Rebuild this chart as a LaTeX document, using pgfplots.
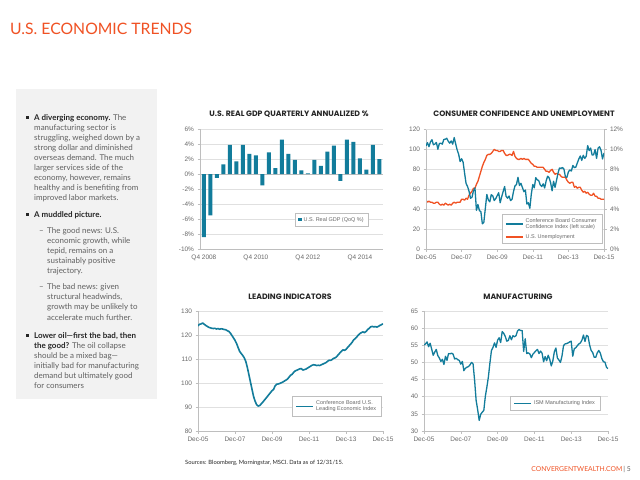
\documentclass[border=0pt]{standalone}
\usepackage{pgfplots}
\pgfplotsset{compat=1.18}
\usepackage{fontspec}
\setmainfont{Lato}
\newfontfamily\tickfont{Liberation Sans}
\newfontfamily\headfont{Poppins}

\definecolor{cteal}{RGB}{18,124,155}
\definecolor{corange}{RGB}{240,82,36}
\definecolor{bodygray}{RGB}{96,96,96}
\definecolor{darktext}{RGB}{38,38,38}
\definecolor{panelgray}{RGB}{242,242,242}
\definecolor{axgray}{RGB}{190,190,190}
\definecolor{gridgray}{RGB}{224,224,224}
\definecolor{ticktext}{RGB}{105,105,105}

\pgfplotsset{
  panel/.style={
    scale only axis,
    axis x line*=bottom,
    axis y line*=left,
    axis line style={draw=axgray, line width=0.6bp},
    ymajorgrids,
    grid style={draw=gridgray, line width=0.5bp},
    tick align=outside,
    major tick length=2.5bp,
    tick style={draw=axgray, line width=0.5bp},
    tick label style={font=\tickfont\fontsize{6.5}{7.5}\selectfont, text=ticktext},
    /pgf/number format/assume math mode=true,
    legend style={draw=axgray, line width=0.5bp, anchor=north west,
      font=\tickfont\fontsize{5.5}{6.6}\selectfont, text=ticktext,
      inner xsep=3bp, inner ysep=2bp, cells={align=left}},
    legend cell align=left,
  },
  datex/.style={xmin=0, xmax=120, xtick={0,24,...,120},
    xticklabels={Dec-05,Dec-07,Dec-09,Dec-11,Dec-13,Dec-15}},
}

% one line of body text at pixel position
\newcommand\tl[3]{\node[anchor=base west, inner sep=0pt, text=bodygray,
  font=\fontsize{8}{9}\selectfont] at (#1bp,-#2bp) {#3};}
\newcommand\bul[1]{\fill[darktext] (26bp,-#1bp+4.4bp) rectangle (29.2bp,-#1bp+1.2bp);}
\newcommand\bd[1]{\textbf{\textcolor{darktext}{#1}}}

\begin{document}
\begin{tikzpicture}
\path[use as bounding box, fill=white] (0,0) rectangle (640bp,-480bp);

% title
\node[anchor=base west, inner sep=0pt, text=corange, font=\fontsize{15.8}{18}\selectfont]
  at (10bp,-34bp) {U.S. ECONOMIC TRENDS};

% left panel
\fill[panelgray] (16bp,-89bp) rectangle (157bp,-399bp);
\bul{120}
\tl{34}{120}{\bd{A diverging economy.} The}
\tl{34}{130.1}{manufacturing sector is}
\tl{34}{140.2}{struggling, weighed down by a}
\tl{34}{150.3}{strong dollar and diminished}
\tl{34}{160.4}{overseas demand. The much}
\tl{34}{170.5}{larger services side of the}
\tl{34}{180.6}{economy, however, remains}
\tl{34}{190.7}{healthy and is benefiting from}
\tl{34}{200.8}{improved labor markets.}
\bul{217}
\tl{34}{217}{\bd{A muddled picture.}}
\tl{39}{233}{–}
\tl{47}{233}{The good news: U.S.}
\tl{47}{243.1}{economic growth, while}
\tl{47}{253.2}{tepid, remains on a}
\tl{47}{263.3}{sustainably positive}
\tl{47}{273.4}{trajectory.}
\tl{39}{289.5}{–}
\tl{47}{289.5}{The bad news: given}
\tl{47}{299.7}{structural headwinds,}
\tl{47}{309.9}{growth may be unlikely to}
\tl{47}{320.1}{accelerate much further.}
\bul{338}
\tl{34}{338}{\bd{Lower oil—first the bad, then}}
\tl{34}{348.1}{\bd{the good?} The oil collapse}
\tl{34}{358.2}{should be a mixed bag—}
\tl{34}{368.3}{initially bad for manufacturing}
\tl{34}{378.4}{demand but ultimately good}
\tl{34}{388.5}{for consumers}

% chart titles
\begin{scope}[every node/.style={text=darktext, font=\headfont\bfseries\fontsize{7.8}{9}\selectfont}]
\node at (289bp,-114bp) {U.S. REAL GDP QUARTERLY ANNUALIZED \%};
\node at (524bp,-114bp) {CONSUMER CONFIDENCE AND UNEMPLOYMENT};
\node at (290bp,-297bp) {LEADING INDICATORS};
\node at (518bp,-297bp) {MANUFACTURING};
\end{scope}

% GDP bars
\begin{axis}[panel, at={(200bp,-249bp)}, anchor=south west, width=183bp, height=120bp,
  ybar, bar width=0.62, bar shift=0pt,
  ymin=-10, ymax=6, ytick={-10,-8,...,6},
  yticklabels={-10\%,-8\%,-6\%,-4\%,-2\%,0\%,2\%,4\%,6\%},
  xmin=0.4, xmax=28.55, xtick={1,9,17,25},
  xticklabels={Q4 2008,Q4 2010,Q4 2012,Q4 2014}, x tick style={draw=none},
  extra y ticks={0}, extra y tick labels={}, extra y tick style={grid style={draw=axgray}},
  legend style={at={(0.52,0.30)}},
  legend image code/.code={\fill[cteal] (0bp,-1.4bp) rectangle (3.2bp,1.8bp);},
]
\addplot[fill=cteal, draw=none] coordinates {
  (1,-8.4) (2,-5.5) (3,-0.5) (4,1.3) (5,3.9) (6,1.7) (7,3.9) (8,2.7)
  (9,2.5) (10,-1.5) (11,2.9) (12,0.8) (13,4.6) (14,2.7) (15,1.9) (16,0.5)
  (17,0.1) (18,1.9) (19,1.1) (20,3.0) (21,3.8) (22,-0.9) (23,4.6) (24,4.3)
  (25,2.1) (26,0.6) (27,3.9) (28,2.0)};
\addlegendentry{U.S. Real GDP (QoQ \%)}
\end{axis}

% unemployment, right scale
\begin{axis}[panel, at={(426bp,-249bp)}, anchor=south west, width=178bp, height=119.5bp,
  datex, axis x line=none, axis y line*=right,
  ymin=0, ymax=12, ytick={0,2,...,12},
  yticklabels={0\%,2\%,4\%,6\%,8\%,10\%,12\%},
]
\addplot[corange, line width=1.3bp, line join=round] coordinates {
(0,4.9)
(1,4.7) (2,4.8) (3,4.7) (4,4.7) (5,4.6) (6,4.6) (7,4.7) (8,4.7) (9,4.5) (10,4.4) (11,4.5) (12,4.4)
(13,4.6) (14,4.5) (15,4.4) (16,4.5) (17,4.4) (18,4.6) (19,4.7) (20,4.6) (21,4.7) (22,4.7) (23,4.7) (24,5.0)
(25,5.0) (26,4.9) (27,5.1) (28,5.0) (29,5.4) (30,5.6) (31,5.8) (32,6.1) (33,6.1) (34,6.5) (35,6.8) (36,7.3)
(37,7.8) (38,8.3) (39,8.7) (40,9.0) (41,9.4) (42,9.5) (43,9.5) (44,9.6) (45,9.8) (46,10.0) (47,9.9) (48,9.9)
(49,9.8) (50,9.8) (51,9.9) (52,9.9) (53,9.6) (54,9.4) (55,9.4) (56,9.5) (57,9.5) (58,9.4) (59,9.8) (60,9.3)
(61,9.1) (62,9.0) (63,9.0) (64,9.1) (65,9.0) (66,9.1) (67,9.0) (68,9.0) (69,9.0) (70,8.8) (71,8.6) (72,8.5)
(73,8.3) (74,8.3) (75,8.2) (76,8.2) (77,8.2) (78,8.2) (79,8.2) (80,8.0) (81,7.8) (82,7.8) (83,7.7) (84,7.9)
(85,8.0) (86,7.7) (87,7.5) (88,7.6) (89,7.5) (90,7.5) (91,7.3) (92,7.2) (93,7.2) (94,7.2) (95,6.9) (96,6.7)
(97,6.6) (98,6.7) (99,6.7) (100,6.2) (101,6.3) (102,6.1) (103,6.2) (104,6.2) (105,5.9) (106,5.7) (107,5.8) (108,5.6)
(109,5.7) (110,5.5) (111,5.4) (112,5.4) (113,5.6) (114,5.3) (115,5.3) (116,5.1) (117,5.1) (118,5.0) (119,5.0) (120,5.0)};
\end{axis}

% consumer confidence, left scale
\begin{axis}[panel, at={(426bp,-249bp)}, anchor=south west, width=178bp, height=119.5bp,
  datex, ymajorgrids=false,
  ymin=0, ymax=120, ytick={0,20,...,120},
  legend style={at={(0.427,0.294)}},
]
\addplot[cteal, line width=1.3bp, line join=round] coordinates {
(0,103.6)
(1,106.8) (2,102.7) (3,107.5) (4,109.8) (5,104.7) (6,105.4) (7,107.0) (8,100.2) (9,105.9) (10,106.3) (11,105.3) (12,110.0)
(13,110.2) (14,111.2) (15,108.2) (16,106.3) (17,108.5) (18,105.3) (19,111.9) (20,105.6) (21,99.5) (22,95.2) (23,87.8) (24,90.6)
(25,87.3) (26,76.4) (27,65.9) (28,62.8) (29,58.1) (30,51.0) (31,51.9) (32,58.5) (33,61.4) (34,38.8) (35,44.7) (36,38.6)
(37,37.4) (38,25.3) (39,26.9) (40,40.8) (41,54.8) (42,49.3) (43,47.4) (44,54.5) (45,53.4) (46,48.7) (47,50.6) (48,53.6)
(49,56.5) (50,46.4) (51,52.3) (52,57.7) (53,62.7) (54,52.9) (55,51.0) (56,53.2) (57,48.6) (58,49.9) (59,57.8) (60,63.4)
(61,64.8) (62,72.0) (63,63.8) (64,66.0) (65,61.7) (66,57.6) (67,59.2) (68,45.2) (69,46.4) (70,40.9) (71,55.2) (72,64.8)
(73,61.5) (74,71.6) (75,69.5) (76,68.7) (77,64.4) (78,62.7) (79,65.4) (80,61.3) (81,68.4) (82,73.1) (83,71.5) (84,66.7)
(85,58.4) (86,68.0) (87,61.9) (88,69.0) (89,76.2) (90,81.4) (91,81.0) (92,81.8) (93,80.2) (94,72.4) (95,72.0) (96,77.5)
(97,79.4) (98,78.3) (99,83.9) (100,81.7) (101,82.2) (102,86.4) (103,90.3) (104,93.4) (105,89.0) (106,94.1) (107,91.0) (108,93.1)
(109,103.8) (110,98.8) (111,101.4) (112,94.3) (113,94.6) (114,99.8) (115,91.0) (116,101.3) (117,102.6) (118,99.1) (119,90.4) (120,96.5)};
\addlegendentry{Conference Board Consumer\\Confidence Index (left scale)}
\addlegendimage{corange, line width=1.3bp}
\addlegendentry{U.S. Unemployment}
\end{axis}

% leading indicators
\begin{axis}[panel, at={(198bp,-431bp)}, anchor=south west, width=185bp, height=120bp,
  datex, ymin=80, ymax=130, ytick={80,90,...,130},
  legend style={at={(0.51,0.29)}},
]
\addplot[cteal, line width=1.6bp, line join=round] coordinates {
(0,123.8) (1,124.5) (2,124.6) (3,125.0) (4,124.5) (5,124.0) (6,123.6) (7,123.2) (8,123.0) (9,122.8) (10,122.7)
(11,122.8) (12,122.5) (13,122.7) (14,122.4) (15,122.6) (16,122.5) (17,122.3) (18,122.2) (19,121.8) (20,121.5)
(21,120.8) (22,119.8) (23,118.8) (24,117.8) (25,116.5) (26,114.8) (27,113.2) (28,112.3) (29,111.5) (30,110.5)
(31,109.0) (32,106.5) (33,103.5) (34,100.5) (35,97.5) (36,94.5) (37,92.5) (38,91.0) (39,90.4) (40,90.6)
(41,91.3) (42,92.0) (43,92.8) (44,93.6) (45,94.4) (46,95.2) (47,96.0) (48,96.8) (49,97.3) (50,98.8)
(51,99.5) (52,99.6) (53,99.8) (54,100.1) (55,100.4) (56,100.8) (57,101.2) (58,101.6) (59,102.4) (60,103.2)
(61,103.6) (62,104.4) (63,105.0) (64,105.3) (65,105.6) (66,105.9) (67,106.0) (68,105.4) (69,105.6) (70,105.8)
(71,106.2) (72,106.6) (73,107.0) (74,107.4) (75,107.6) (76,107.5) (77,107.3) (78,107.4) (79,107.3) (80,107.6)
(81,107.9) (82,108.2) (83,108.5) (84,109.0) (85,109.5) (86,109.4) (87,109.8) (88,110.3) (89,110.5) (90,111.0)
(91,111.8) (92,112.5) (93,113.2) (94,113.8) (95,113.6) (96,114.0) (97,114.8) (98,115.5) (99,116.2) (100,117.0)
(101,118.0) (102,118.5) (103,119.2) (104,120.0) (105,120.6) (106,121.0) (107,121.3) (108,121.0) (109,121.5) (110,122.2)
(111,122.8) (112,123.4) (113,123.6) (114,123.4) (115,123.5) (116,123.3) (117,123.6) (118,124.0) (119,124.3) (120,124.7)};
\addlegendentry{Conference Board U.S.\\Leading Economic Index}
\end{axis}

% manufacturing
\begin{axis}[panel, at={(424bp,-431bp)}, anchor=south west, width=184bp, height=120bp,
  datex, ymin=30, ymax=65, ytick={30,35,...,65},
  legend style={at={(0.47,0.29)}},
]
\addplot[cteal, line width=1.3bp, line join=round] coordinates {
(0,55.1)
(1,55.4) (2,56.0) (3,54.6) (4,55.6) (5,53.9) (6,52.1) (7,53.0) (8,53.8) (9,52.0) (10,51.3) (11,50.3) (12,50.9)
(13,49.4) (14,51.8) (15,50.6) (16,52.6) (17,52.5) (18,52.7) (19,52.4) (20,51.0) (21,51.2) (22,50.8) (23,50.6) (24,49.5)
(25,50.3) (26,47.6) (27,48.3) (28,48.6) (29,48.8) (30,49.3) (31,50.0) (32,49.6) (33,44.8) (34,38.9) (35,36.2) (36,33.1)
(37,34.9) (38,35.5) (39,36.0) (40,40.1) (41,42.8) (42,45.8) (43,49.9) (44,53.5) (45,54.4) (46,55.7) (47,54.4) (48,56.5)
(49,57.2) (50,55.8) (51,59.0) (52,58.5) (53,57.6) (54,56.2) (55,56.4) (56,57.8) (57,56.6) (58,57.8) (59,57.5) (60,57.8)
(61,59.2) (62,59.6) (63,59.3) (64,59.3) (65,53.2) (66,56.9) (67,52.6) (68,52.8) (69,52.5) (70,51.4) (71,52.4) (72,52.9)
(73,53.4) (74,53.8) (75,52.6) (76,53.3) (77,52.7) (78,50.2) (79,51.7) (80,50.5) (81,52.1) (82,50.9) (83,49.0) (84,50.4)
(85,53.1) (86,54.2) (87,51.3) (88,50.7) (89,50.0) (90,51.9) (91,54.9) (92,55.4) (93,55.5) (94,55.7) (95,56.0) (96,56.2)
(97,51.8) (98,54.0) (99,54.3) (100,54.9) (101,55.4) (102,55.7) (103,56.5) (104,58.0) (105,56.1) (106,57.9) (107,57.6) (108,55.1)
(109,53.5) (110,52.9) (111,51.5) (112,51.5) (113,52.8) (114,53.5) (115,52.7) (116,51.1) (117,50.2) (118,50.1) (119,48.6) (120,48.2)};
\addlegendentry{ISM Manufacturing Index}
\end{axis}

% footer
\node[anchor=base west, inner sep=0pt, text=darktext, font=\fontsize{5.8}{7}\selectfont]
  at (185bp,-464bp) {Sources: Bloomberg, Morningstar, MSCI. Data as of 12/31/15.};
\node[anchor=base east, inner sep=0pt, font=\fontsize{6.8}{8}\selectfont]
  at (631bp,-471bp) {\textcolor{corange}{CONVERGENTWEALTH.COM}\,\textcolor{bodygray}{| 5}};
\end{tikzpicture}
\end{document}
